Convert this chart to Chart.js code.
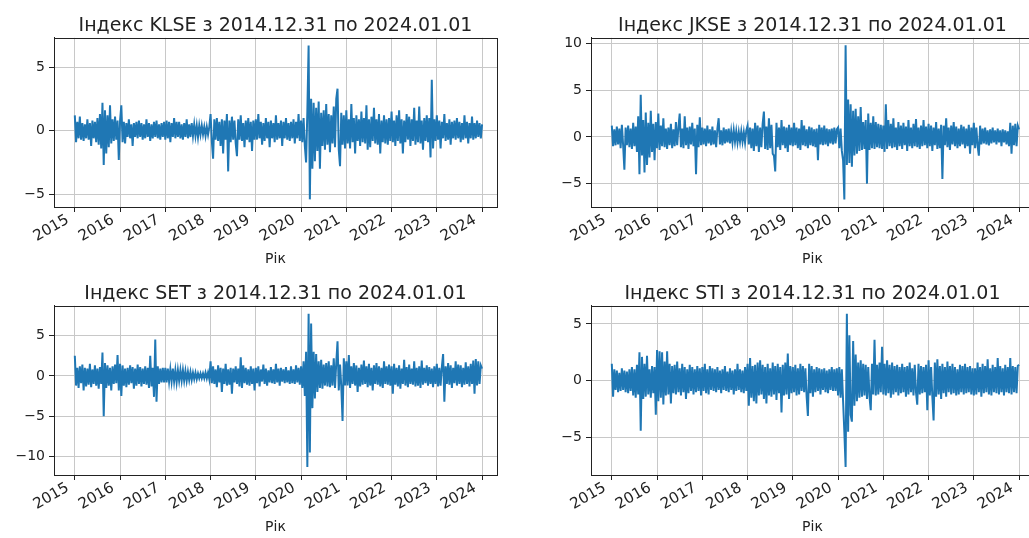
<!DOCTYPE html>
<html>
<head>
<meta charset="utf-8">
<script src="https://cdn.jsdelivr.net/npm/chart.js@4.4.1/dist/chart.umd.min.js"></script>
<style>
  html, body { margin: 0; padding: 0; background: #fff; overflow: hidden; width: 1029px; height: 538px; }
  .box { position: absolute; width: 514px; height: 269px; }
</style>
</head>
<body>
<div class="box" style="left:0;top:0"><canvas id="klse"></canvas></div>
<div class="box" style="left:537px;top:0"><canvas id="jkse"></canvas></div>
<div class="box" style="left:0;top:268px"><canvas id="set"></canvas></div>
<div class="box" style="left:537px;top:268px"><canvas id="sti"></canvas></div>
<script>
// Зміни індексів, 36 відліків на рік (рядок = рік, 2015 ... 2023) + останній відлік
const YEAR_TICKS = [2015, 2016, 2017, 2018, 2019, 2020, 2021, 2022, 2023, 2024];
const PER_YEAR = 36;

const KLSE = [
  1.2,-0.9,0.7,-0.6,1.1,-0.7,0.6,-0.8,0.5,-0.6,0.9,-0.7,0.6,-1.2,0.8,-0.6,0.7,-0.9,1.0,-1.1,1.3,-1.4,2.2,-2.7,1.6,-1.8,1.2,-1.3,2.0,-1.0,0.9,-0.8,1.1,-0.7,0.8,-2.3,
  0.8,2.0,-0.9,0.7,-1.0,0.6,-0.5,0.9,-0.6,0.5,-1.2,0.6,-0.5,0.7,-0.6,0.8,-0.5,0.6,-0.7,0.5,-0.6,0.9,-0.5,0.6,-0.8,0.5,-0.6,0.7,-0.5,0.8,-0.6,0.5,-0.7,0.6,-0.5,0.7,
  -0.7,0.8,-0.6,0.7,-0.9,0.6,-0.5,1.0,-0.6,0.7,-0.5,0.7,-0.6,0.5,-0.7,0.6,-0.5,0.9,-0.6,0.5,-0.5,0.6,-0.4,0.5,-0.4,0.4,-0.5,0.4,-0.3,0.4,-0.3,0.3,-0.4,0.3,-0.3,0.3,
  1.3,-0.8,-2.2,0.9,-0.7,1.0,-0.8,0.7,-1.2,0.9,-1.8,0.8,-0.7,1.3,-3.2,0.8,-0.9,1.1,-0.7,0.8,-1.0,-2.0,0.9,-0.7,1.2,-0.8,0.6,-1.3,0.8,-0.7,1.0,-0.9,0.7,-1.6,0.8,-0.7,
  0.9,-0.7,1.3,-0.6,0.7,-1.1,0.6,-0.8,1.0,-0.6,0.7,-1.3,0.8,-0.6,0.6,-0.9,1.2,-0.7,0.6,-0.6,0.8,-1.2,0.7,-0.6,1.0,-0.7,0.6,-0.8,0.7,-0.6,0.9,-1.0,0.7,-0.6,1.3,-0.8,
  0.8,-0.9,1.0,-1.2,-2.5,1.5,6.7,-5.4,2.5,-3.0,2.2,-2.4,1.8,-1.6,2.3,-3.0,1.4,-1.2,1.6,-1.5,2.1,-1.1,1.3,-1.7,1.2,-1.0,1.9,-1.3,2.5,3.3,-1.5,-2.8,1.4,-1.1,1.2,-1.4,
  1.6,-1.0,0.9,-1.4,2.1,-0.9,1.0,-1.8,1.2,-0.8,0.9,-1.2,1.5,-0.9,1.0,-1.0,2.0,-1.5,0.9,-1.3,1.1,-0.8,1.8,-1.0,0.9,-1.1,1.3,-1.8,0.8,-0.9,1.2,-1.0,0.9,-1.1,1.0,-0.8,
  1.5,-0.9,0.8,-1.2,1.2,-0.8,1.6,-1.0,0.9,-1.8,0.8,-0.9,1.3,-0.7,1.1,-1.2,0.9,-0.8,1.8,-1.1,0.8,-0.9,1.9,-1.0,0.8,-1.5,1.0,-0.8,1.2,-0.9,1.0,-2.1,4.0,-1.4,0.9,-0.8,
  1.2,-0.7,0.8,-1.4,0.7,-0.6,1.3,-0.8,0.6,-0.7,0.9,-1.1,0.7,-0.6,0.8,-0.7,1.0,-0.6,0.7,-0.9,0.6,-0.7,1.2,-0.6,0.7,-1.0,0.6,-0.6,1.1,-0.7,0.6,-0.6,0.8,-0.5,0.6,-0.6,
  0.5
];

const JKSE = [
  1.2,-1.0,0.8,-0.9,1.1,-0.8,0.9,-1.2,1.3,-0.9,-3.5,1.0,-0.9,1.2,-1.1,0.9,-1.3,1.5,-1.0,1.1,-1.6,2.2,-4.0,4.5,-2.0,1.8,-3.8,2.6,-3.0,1.5,-2.2,2.8,-1.6,1.4,-2.5,1.6,
  -1.2,2.5,-1.4,1.2,-1.0,2.0,-1.1,0.9,-1.3,1.0,-0.9,1.4,-1.2,0.8,-1.0,1.6,-0.9,1.0,2.5,-1.1,0.9,-1.2,2.2,-0.9,1.0,-1.3,1.1,-0.8,1.5,-1.0,0.9,-4.0,1.3,-1.1,2.1,-0.9,
  1.0,-0.8,0.9,-1.0,1.2,-0.7,0.8,-0.9,1.1,-0.8,0.7,-1.1,0.9,2.0,-0.8,0.7,-0.9,1.0,-0.7,0.8,-0.6,0.9,-0.7,0.6,-0.6,0.7,-0.5,0.6,-0.6,0.5,-0.5,0.6,-0.5,0.5,-0.6,0.7,
  1.2,-0.8,1.0,-1.2,0.9,-1.5,1.5,-1.0,1.2,-1.6,1.0,-1.1,1.4,2.7,-1.3,1.1,-1.4,2.0,-1.2,1.3,-1.8,-2.0,-3.7,1.5,-1.1,1.0,-1.4,1.8,-0.9,1.1,-1.2,1.0,-1.6,1.3,-0.9,1.0,
  -1.0,1.5,-0.9,1.0,-1.2,0.9,-1.4,1.8,-0.9,1.2,-1.0,0.8,-1.2,1.1,-0.9,1.0,-1.0,0.8,-1.1,0.9,-2.5,1.3,-0.8,1.0,-0.9,1.2,-0.8,0.9,-1.0,0.8,-0.7,0.9,-0.8,1.0,-0.7,0.8,
  1.0,-1.2,0.9,-1.5,-2.5,-6.7,9.8,-3.0,4.0,-2.8,3.5,-3.2,2.8,-2.0,3.0,-1.8,2.2,-1.5,3.2,-1.4,1.6,-1.3,1.8,-5.0,2.5,-1.4,1.5,-1.2,2.2,-1.3,1.6,-1.1,1.4,-1.2,1.3,-1.3,
  1.2,-1.6,3.5,-1.3,1.8,-1.0,1.4,-1.2,2.0,-1.1,1.0,-1.4,1.6,-1.0,1.2,-1.3,1.5,-0.9,1.1,-1.5,1.8,-1.0,1.0,-1.2,1.4,-1.0,1.9,-1.1,1.0,-1.3,1.2,-1.0,1.8,-0.9,1.1,-1.2,
  1.4,-1.0,1.2,-1.5,1.0,-0.9,1.6,-1.3,0.9,-1.2,1.3,-4.5,1.2,-0.9,2.0,-1.1,1.0,-1.4,1.2,-0.8,1.6,-1.0,1.1,-1.2,0.9,-1.0,1.3,-0.8,1.1,-1.2,0.9,-1.0,1.3,-1.8,1.0,-0.9,
  1.5,-1.2,1.0,-0.9,-2.0,1.2,-0.8,0.9,-0.7,1.0,-0.8,0.7,-0.9,0.8,-0.7,1.0,-0.6,0.7,-0.8,0.9,-0.6,0.7,-1.0,0.8,-0.6,0.7,-0.8,0.6,-1.0,1.5,-1.8,1.2,-0.9,1.4,-1.0,1.2,
  0.8
];

const SET = [
  2.5,-1.2,1.0,-1.5,1.2,-0.9,1.4,-1.8,1.0,-1.3,0.9,-1.1,1.5,-1.4,0.8,-1.0,1.3,-1.2,0.9,-1.6,1.1,-1.0,2.9,-5.0,1.6,-1.5,1.3,-1.2,1.0,-1.8,1.2,-1.0,1.4,-0.9,2.6,-1.8,
  1.5,-2.5,1.3,-1.2,0.9,-1.4,1.0,-1.1,1.3,-0.9,1.1,-1.6,0.9,-1.2,1.4,-1.0,1.1,-1.3,0.9,-1.0,1.2,-1.1,1.0,-1.5,2.5,-1.3,1.0,-2.6,4.5,-3.2,1.2,-1.0,0.9,-0.8,1.0,-0.8,
  1.0,-0.8,0.9,-0.7,0.8,-0.7,0.9,-0.7,0.7,-0.8,0.7,-0.6,0.7,-0.6,0.7,-0.6,0.6,-0.6,0.5,-0.5,0.5,-0.5,0.4,-0.4,0.4,-0.4,0.3,-0.3,0.3,-0.3,0.3,-0.3,0.4,-0.3,0.4,-0.4,
  1.8,-0.9,1.2,-1.0,0.8,-1.4,1.3,-0.8,1.0,-2.0,0.9,-1.0,1.5,-1.2,0.8,-1.1,1.0,-2.2,0.9,-0.8,1.2,-1.0,0.9,-1.3,2.3,-1.5,1.3,-0.9,1.0,-1.1,0.8,-1.2,1.2,-1.0,0.9,-1.8,
  1.0,-0.9,1.2,-1.3,0.8,-0.7,1.4,-1.0,0.9,-1.2,0.7,-0.8,1.1,-0.9,0.8,-1.0,1.5,-0.8,0.9,-1.2,1.0,-0.7,0.8,-0.9,1.1,-0.8,0.7,-1.0,1.2,-0.9,0.8,-1.0,1.3,-0.8,1.0,-1.1,
  1.2,-1.5,1.8,-2.5,3.0,-11.3,7.7,-9.5,6.5,-4.0,3.0,-2.8,2.7,-2.0,1.8,-1.5,2.0,-1.6,1.4,-1.2,1.6,-1.3,1.8,-1.4,1.3,-1.2,2.2,-1.5,1.6,4.3,-1.8,1.4,-1.3,-5.6,2.2,-1.2,
  1.8,-1.2,2.6,-1.5,1.2,-1.0,1.6,-1.2,1.3,-2.0,1.0,-1.3,1.4,-1.1,1.9,-1.0,1.2,-1.4,1.5,-1.2,1.0,-1.8,1.3,-1.0,1.6,-1.1,1.2,-1.3,1.0,-1.5,1.8,-1.0,1.2,-1.1,1.4,-1.2,
  1.2,-2.2,1.5,-1.1,1.0,-1.3,1.3,-1.6,0.9,-1.0,2.0,-1.2,1.1,-1.4,1.4,-1.0,0.9,-1.1,1.8,-1.3,1.0,-1.2,1.2,-1.5,1.9,-1.1,1.0,-0.9,1.3,-1.2,1.1,-1.0,0.9,-1.4,1.2,-1.0,
  1.5,-1.3,1.0,-1.2,1.1,2.7,-3.2,1.2,-1.0,1.6,-1.1,1.3,-1.5,1.0,-0.9,1.8,-1.2,1.4,-1.0,1.3,-1.4,1.0,-1.1,1.7,-1.0,1.2,-1.3,1.5,-1.0,1.9,-2.2,2.1,-1.2,1.8,-1.0,1.3,
  0.9
];

const STI = [
  1.5,-1.4,1.0,-0.8,0.9,-1.0,0.7,-0.9,1.1,-0.8,0.9,-1.0,0.8,-1.1,1.0,-0.9,1.2,-1.3,1.0,-1.5,1.4,-1.2,2.5,-4.4,2.1,-1.6,1.5,-1.4,2.2,-1.2,1.0,-1.5,1.3,-1.1,1.2,-3.0,
  2.7,-1.8,2.6,-1.5,2.5,-2.1,1.7,-1.3,2.6,-1.2,1.5,-2.0,1.3,-1.1,1.4,-1.2,1.7,-1.0,1.1,-1.3,1.5,-1.0,1.2,-1.6,1.0,-1.1,1.4,-0.9,1.2,-1.2,1.0,-1.0,1.3,-0.9,1.1,-1.3,
  1.2,-0.9,1.5,-1.1,1.0,-1.2,1.3,-0.8,1.1,-0.9,1.0,-1.0,1.2,-0.8,0.9,-1.1,1.0,-0.8,1.3,-0.9,0.8,-1.0,1.1,-0.8,0.9,-1.2,1.0,-0.9,1.5,-0.8,1.0,-1.0,0.9,-1.1,1.2,-0.9,
  1.5,-2.2,2.0,-1.5,1.3,-1.8,1.4,-2.0,1.6,-1.3,1.8,-1.2,1.4,-1.6,1.2,-2.0,1.5,-1.3,1.1,-1.4,1.6,-1.2,1.3,-1.7,1.5,-1.1,1.2,-2.8,1.4,-1.3,1.6,-1.2,2.4,-1.6,1.3,-1.1,
  1.2,-1.0,1.4,-1.3,1.1,-1.2,1.5,-0.9,1.3,-1.0,1.1,-1.4,-3.1,1.5,-1.1,1.3,-1.4,1.0,-1.0,1.2,-0.9,1.1,-1.2,1.0,-0.8,1.1,-1.0,0.9,-1.1,1.0,-0.8,1.2,-0.9,1.0,-0.9,1.1,
  -1.3,1.2,-1.5,1.0,-1.8,-4.5,-7.6,5.9,-4.5,4.0,-3.0,-3.6,3.5,-2.2,2.3,-1.8,1.6,-1.5,1.8,-1.4,1.5,-1.3,1.4,-1.6,1.2,-1.4,-2.6,1.5,-1.2,3.6,-1.3,1.4,-1.2,1.6,-1.0,3.0,
  -1.2,1.5,-1.3,1.8,-1.1,1.4,-1.5,1.6,-1.2,1.3,-1.0,1.4,-1.3,1.2,-1.1,1.5,-1.0,1.2,-1.4,1.3,-1.2,1.6,-1.0,1.1,-1.3,1.4,-1.0,-2.1,1.5,-1.2,1.3,-1.1,1.2,-1.0,1.4,-2.6,
  1.8,-1.3,1.2,-1.4,-3.5,1.6,-1.4,1.9,-1.2,1.3,-1.6,1.5,-1.1,1.2,-1.4,1.7,-1.0,1.3,-1.2,1.5,-1.1,1.2,-1.3,1.0,-1.2,1.4,-1.0,1.3,-1.2,1.5,-1.1,1.2,-1.0,1.3,-1.2,1.1,
  -1.3,1.1,-1.2,1.6,-1.0,1.2,-1.4,1.5,-1.1,1.3,-1.0,1.9,-1.2,1.1,-1.3,1.4,-1.0,1.2,-1.1,2.0,-1.2,1.3,-1.0,1.1,-1.3,1.4,-1.0,1.2,-1.1,2.0,-1.2,1.3,-1.0,1.2,-1.1,1.3,
  1.4
];

const KLSE_TICKS = [-5, 0, 5];
const JKSE_TICKS = [-5, 0, 5, 10];
const SET_TICKS = [-10, -5, 0, 5];
const STI_TICKS = [-5, 0, 5];

Chart.defaults.font.family = "'DejaVu Sans', sans-serif";
Chart.defaults.color = '#222';

const LINE = '#1f77b4';
const GRID = '#c8c8c8';
const INK = '#222';

// рамка навколо області графіка (як у matplotlib)
const frame = {
    id: 'frame',
    afterDraw(chart) {
        const a = chart.chartArea;
        const c = chart.ctx;
        c.save();
        c.strokeStyle = INK;
        c.lineWidth = 1;
        c.strokeRect(Math.round(a.left) + 0.5, Math.round(a.top) + 0.5,
            Math.round(a.right - a.left), Math.round(a.bottom - a.top));
        c.restore();
    }
};

function minusSign(v) {
    return v < 0 ? '\u2212' + Math.abs(v) : String(v);
}

function makeChart(id, name, values, yTicks, yMin, yMax) {
    const ctx = document.getElementById(id);
    const points = values.map((v, i) => ({ x: YEAR_TICKS[0] + i / PER_YEAR, y: v }));

    return new Chart(ctx, {
        type: 'line',
        data: {
            datasets: [{
                data: points,
                borderColor: LINE,
                borderWidth: 2,
                pointRadius: 0,
                tension: 0,
                fill: false
            }]
        },
        options: {
            responsive: true,
            maintainAspectRatio: false,
            animation: false,
            events: [],
            layout: { padding: { left: 0, right: 17, top: 0, bottom: 0 } },
            plugins: {
                legend: { display: false },
                tooltip: { enabled: false },
                title: {
                    display: true,
                    fullSize: false,
                    text: 'Індекс ' + name + ' з 2014.12.31 по 2024.01.01',
                    color: INK,
                    font: { size: 19, weight: 'normal' },
                    padding: { top: 15, bottom: 0 }
                }
            },
            scales: {
                x: {
                    type: 'linear',
                    min: 2014.54,
                    max: 2024.33,
                    afterBuildTicks: s => { s.ticks = YEAR_TICKS.map(v => ({ value: v })); },
                    afterFit: s => { s.height = 62; },
                    ticks: {
                        minRotation: 30,
                        maxRotation: 30,
                        autoSkip: false,
                        padding: -1,
                        labelOffset: -7,
                        color: INK,
                        font: { size: 15 },
                        callback: v => String(v)
                    },
                    grid: { color: GRID, lineWidth: 1, tickColor: INK, tickLength: 5 },
                    border: { color: INK },
                    title: {
                        display: true,
                        text: 'Рік',
                        color: INK,
                        font: { size: 14 },
                        padding: { top: 0, bottom: 1 }
                    }
                },
                y: {
                    min: yMin,
                    max: yMax,
                    afterBuildTicks: s => { s.ticks = yTicks.map(v => ({ value: v })); },
                    afterFit: s => { s.width = 54; },
                    ticks: {
                        padding: 4,
                        color: INK,
                        font: { size: 14 },
                        callback: v => minusSign(v)
                    },
                    grid: { color: GRID, lineWidth: 1, tickColor: INK, tickLength: 5 },
                    border: { color: INK }
                }
            }
        },
        plugins: [frame]
    });
}

makeChart('klse', 'KLSE', KLSE, KLSE_TICKS, -6.0, 7.3);
makeChart('jkse', 'JKSE', JKSE, JKSE_TICKS, -7.5, 10.6);
makeChart('set', 'SET', SET, SET_TICKS, -12.3, 8.7);
makeChart('sti', 'STI', STI, STI_TICKS, -8.3, 6.6);
</script>
</body>
</html>
